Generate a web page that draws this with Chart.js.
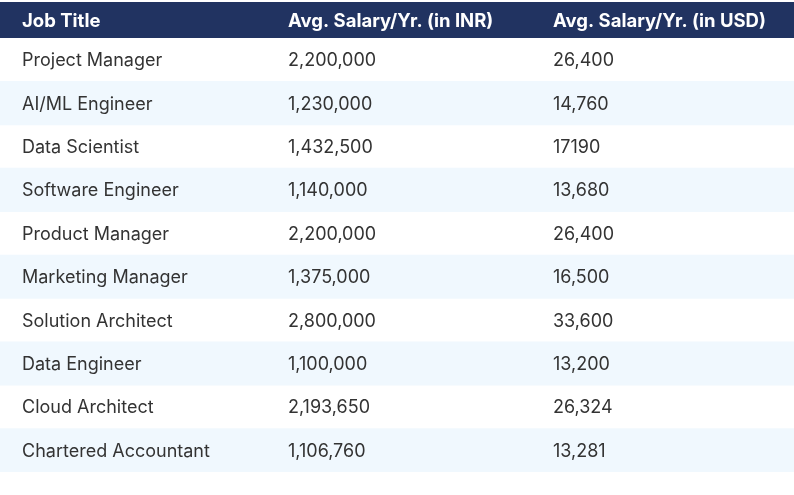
<!DOCTYPE html>
<html>
<head>
<meta charset="utf-8">
<script src="https://cdn.jsdelivr.net/npm/chart.js@4.4.1/dist/chart.umd.min.js"></script>
<style>
  html, body { margin:0; padding:0; background:#fff; }
  #wrap { width:794px; height:495px; position:relative; }
</style>
</head>
<body>
<div id="wrap"><canvas id="salaryTable"></canvas></div>
<script>
const headers = ['Job Title', 'Avg. Salary/Yr. (in INR)', 'Avg. Salary/Yr. (in USD)'];
const jobTitles = ['Project Manager', 'AI/ML Engineer', 'Data Scientist', 'Software Engineer', 'Product Manager',
  'Marketing Manager', 'Solution Architect', 'Data Engineer', 'Cloud Architect', 'Chartered Accountant'];
const salaryINR = ['2,200,000', '1,230,000', '1,432,500', '1,140,000', '2,200,000',
  '1,375,000', '2,800,000', '1,100,000', '2,193,650', '1,106,760'];
const salaryUSD = ['26,400', '14,760', '17190', '13,680', '26,400',
  '16,500', '33,600', '13,200', '26,324', '13,281'];

const FONT = 'Inter, "Noto Sans", sans-serif';

// draws the header band and the cell texts, placed with the chart scales
const tablePlugin = {
  id: 'tableText',
  afterDatasetsDraw(chart, args, opts) {
    const { ctx, chartArea, scales: { x, y } } = chart;
    const cols = [jobTitles, salaryINR, salaryUSD];

    ctx.save();
    ctx.fillStyle = opts.headBg;
    ctx.fillRect(0, opts.headTop, chart.width, chartArea.top - opts.headTop);
    ctx.fillStyle = '#ffffff';
    ctx.font = '700 18.5px ' + FONT;
    ctx.textBaseline = 'middle';
    ctx.textAlign = 'left';
    const hy = (opts.headTop + chartArea.top) / 2 + 1;
    headers.forEach((h, c) => ctx.fillText(h, x.getPixelForValue(opts.colX[c]), hy));

    ctx.fillStyle = '#333333';
    ctx.font = '400 18px ' + FONT;
    jobTitles.forEach((_, r) => {
      const py = y.getPixelForValue(r) + 1;
      cols.forEach((col, c) => ctx.fillText(col[r], x.getPixelForValue(opts.colX[c]), py));
    });
    ctx.restore();
  }
};

new Chart(document.getElementById('salaryTable'), {
  type: 'bar',
  data: {
    labels: jobTitles,
    datasets: [{
      // alternate row stripes
      data: jobTitles.map((_, i) => i % 2 ? 794 : null),
      backgroundColor: '#f0f8fe',
      borderWidth: 0,
      barPercentage: 1,
      categoryPercentage: 1
    }]
  },
  options: {
    indexAxis: 'y',
    responsive: true,
    maintainAspectRatio: false,
    animation: false,
    layout: { padding: { top: 38, bottom: 23, left: 0, right: 0 } },
    scales: {
      x: { type: 'linear', min: 0, max: 794, display: false },
      y: { display: false }
    },
    plugins: {
      legend: { display: false },
      tooltip: { enabled: false },
      tableText: { headBg: '#213361', headTop: 2, colX: [22, 288, 553] }
    }
  },
  plugins: [tablePlugin]
});
</script>
</body>
</html>
